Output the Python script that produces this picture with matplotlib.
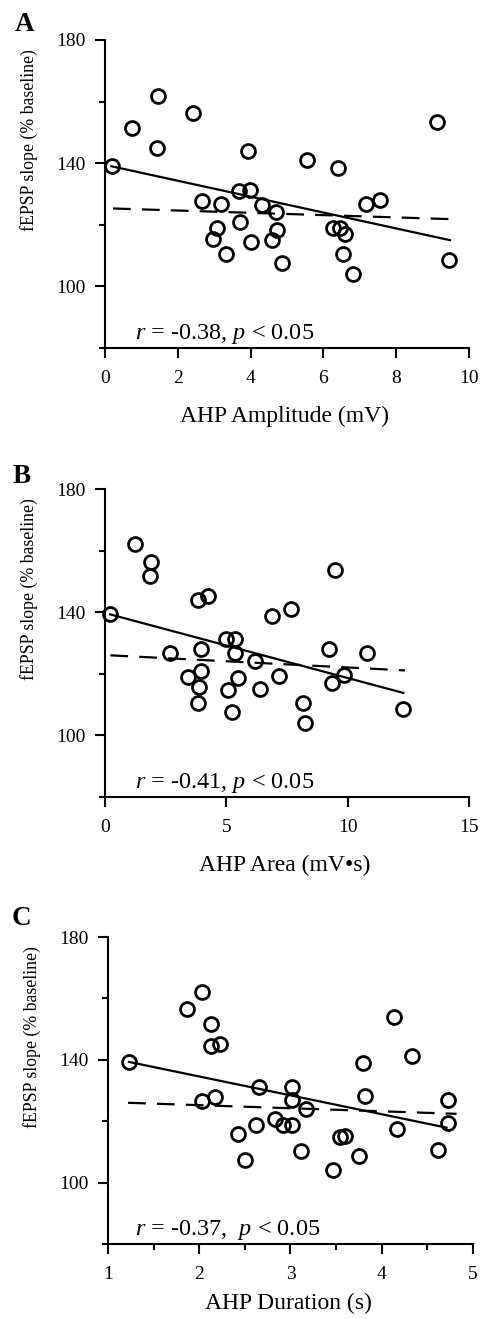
import matplotlib.pyplot as plt
from matplotlib.ticker import FixedLocator

plt.rcParams['font.family'] = 'Liberation Serif'
plt.rcParams['mathtext.fontset'] = 'custom'
plt.rcParams['mathtext.rm'] = 'Liberation Serif'
plt.rcParams['mathtext.it'] = 'Liberation Serif:italic'

# A - AHP amplitude (mV) vs fEPSP slope
amp_x = [0.18, 0.73, 1.45, 1.42, 2.43, 3.94, 5.56, 6.41, 9.11, 2.66, 3.20, 3.69, 3.98, 4.30,
         4.70, 7.16, 7.55, 3.71, 3.07, 2.96, 3.32, 4.00, 4.58, 4.72, 4.85, 6.27, 6.46, 6.59,
         6.55, 6.80, 9.46]
amp_y = [139.0, 151.3, 161.9, 144.9, 156.2, 144.0, 140.9, 138.6, 153.4, 127.7, 126.7, 131.0,
         131.2, 126.4, 124.1, 126.7, 128.0, 120.9, 118.8, 115.5, 110.4, 114.4, 115.2, 118.4,
         107.6, 118.8, 119.1, 117.1, 110.4, 104.1, 108.5]
amp_fit_x = [0.18, 9.48]
amp_fit_y = [139.0, 115.0]
amp_ctrl_x = [0.22, 9.6]
amp_ctrl_y = [125.3, 121.8]

# B - AHP area (mV*s)
area_x = [0.21, 1.24, 1.90, 1.85, 3.85, 4.23, 6.87, 7.66, 9.48, 4.99, 5.37, 2.68, 3.94, 5.36,
          9.23, 10.78, 6.18, 3.43, 3.96, 3.89, 3.82, 5.06, 5.47, 5.25, 6.39, 7.18, 8.17, 8.24,
          9.37, 9.86, 12.29]
area_y = [139.3, 162.0, 156.2, 151.7, 144.1, 145.2, 138.8, 141.0, 153.7, 131.4, 131.2, 126.8,
          128.0, 126.8, 128.2, 126.8, 124.1, 119.0, 120.8, 115.7, 110.6, 114.6, 118.6, 107.6,
          115.2, 119.2, 110.6, 104.1, 117.1, 119.5, 108.7]
area_fit_x = [0.21, 12.29]
area_fit_y = [139.3, 113.8]
area_ctrl_x = [0.22, 12.36]
area_ctrl_y = [126.0, 121.1]

# C - AHP duration (s)
dur_x = [1.23, 2.03, 1.87, 2.13, 2.13, 2.23, 4.13, 4.33, 3.80, 2.66, 3.02, 2.03, 2.17, 3.02,
         3.17, 3.82, 4.73, 4.73, 2.83, 2.62, 2.92, 3.02, 2.42, 2.50, 3.12, 3.54, 3.60, 3.47,
         3.75, 4.17, 4.62]
dur_y = [139.3, 162.2, 156.4, 151.6, 144.4, 145.3, 153.8, 141.1, 138.8, 131.3, 131.3, 126.6,
         127.9, 126.8, 124.1, 128.1, 126.8, 119.4, 120.8, 118.9, 118.6, 118.9, 115.7, 107.5,
         110.4, 114.8, 115.3, 104.1, 108.6, 117.3, 110.7]
dur_fit_x = [1.23, 4.71]
dur_fit_y = [139.3, 117.9]
dur_ctrl_x = [1.22, 4.82]
dur_ctrl_y = [126.0, 122.4]

W, H = 481, 1319
fig = plt.figure(figsize=(W / 100, H / 100), dpi=100)


def panel(box, x, y, fit_x, fit_y, ctrl_x, ctrl_y, x0, x1, xmajor, xminor, xlabel, stats,
          letter, letter_pos, xlabel_y=-0.187):
    # box = left, top, right, bottom in pixels
    l, t, r, b = box
    ax = fig.add_axes([l / W, 1 - b / H, (r - l) / W, (b - t) / H])

    ax.plot(x, y, 'o', ms=10, mfc='none', mec='black', mew=2, zorder=3, clip_on=False)
    ax.plot(fit_x, fit_y, '-', color='black', lw=1.6)
    ax.plot(ctrl_x, ctrl_y, '--', color='black', lw=1.6, dashes=(8, 5))

    # bottom axis sticks out a little to the left of the y axis
    over = (x1 - x0) * 5 / (r - l - 5)
    ax.set_xlim(x0 - over, x1)
    ax.set_ylim(80, 180)
    ax.spines['left'].set_position(('data', x0))
    ax.spines['top'].set_visible(False)
    ax.spines['right'].set_visible(False)
    for s in ['left', 'bottom']:
        ax.spines[s].set_linewidth(1.5)

    ax.xaxis.set_major_locator(FixedLocator(xmajor))
    ax.xaxis.set_minor_locator(FixedLocator(xminor))
    ax.yaxis.set_major_locator(FixedLocator([100, 140, 180]))
    ax.yaxis.set_minor_locator(FixedLocator([120, 160]))
    ax.tick_params(which='major', direction='out', length=7, width=1.5, labelsize=14)
    ax.tick_params(which='minor', direction='out', length=4, width=1.5)
    ax.tick_params(axis='x', pad=9)
    ax.tick_params(axis='y', pad=7)

    ax.set_xlabel(xlabel, fontsize=17)
    ax.xaxis.set_label_coords(0.5, xlabel_y)
    ax.set_ylabel('fEPSP slope (% baseline)', fontsize=12.8)
    ax.yaxis.set_label_coords(-0.168, 0.675)

    ax.text((135 - l) / (r - l), 0.03, stats, transform=ax.transAxes, fontsize=17.5,
            va='baseline')
    fig.text(letter_pos[0] / W, 1 - letter_pos[1] / H, letter, fontsize=19.5,
             fontweight='bold', va='baseline')
    return ax


panel((100, 40, 469, 348), amp_x, amp_y, amp_fit_x, amp_fit_y, amp_ctrl_x, amp_ctrl_y,
      0, 10, [0, 2, 4, 6, 8, 10], [], 'AHP Amplitude (mV)',
      r'$r$ = -0.38, $p$ < 0.05', 'A', (15, 31))
panel((100, 489, 469, 797), area_x, area_y, area_fit_x, area_fit_y, area_ctrl_x, area_ctrl_y,
      0, 15, [0, 5, 10, 15], [], 'AHP Area (mV\u2022s)',
      r'$r$ = -0.41, $p$ < 0.05', 'B', (13, 483))
panel((103, 937, 473, 1244), dur_x, dur_y, dur_fit_x, dur_fit_y, dur_ctrl_x, dur_ctrl_y,
      1, 5, [1, 2, 3, 4, 5], [1.5, 2.5, 3.5, 4.5], 'AHP Duration (s)',
      r'$r$ = -0.37,  $p$ < 0.05', 'C', (12, 925), xlabel_y=-0.16)

plt.savefig('out.png', dpi=100)
